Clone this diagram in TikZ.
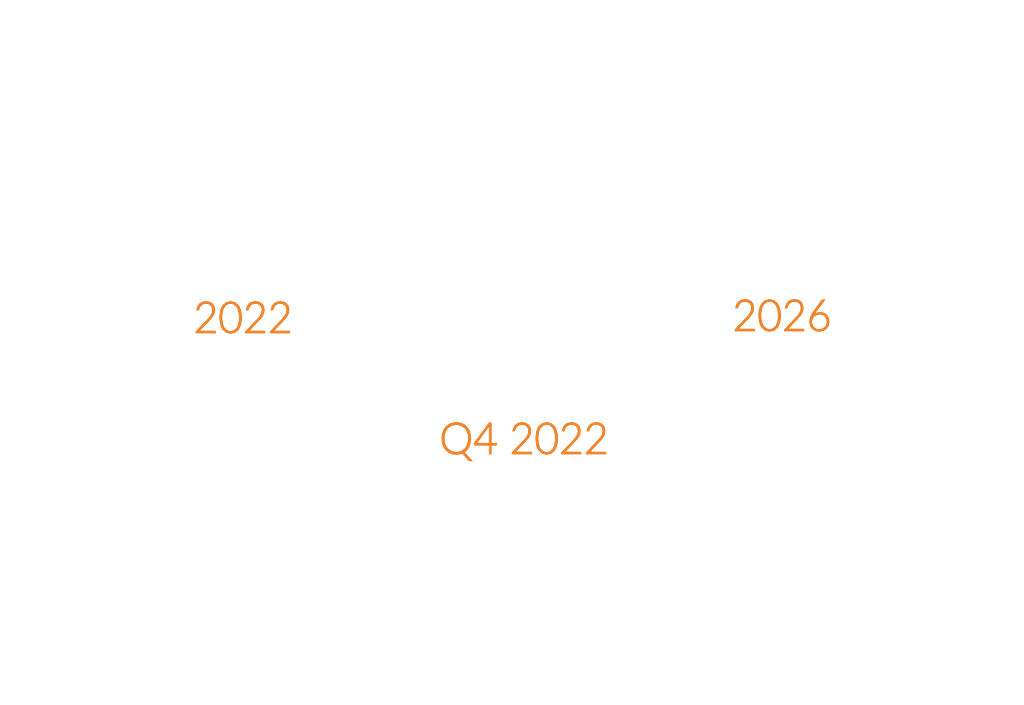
\documentclass[tikz,border=0pt]{standalone}
\usepackage{fontspec}
\setmainfont{Lato}[UprightFont=* Light,UprightFeatures={FakeBold=2,FakeStretch=0.97}]
\definecolor{yearorange}{HTML}{F0862E}
\begin{document}
\begin{tikzpicture}[x=1pt,y=-1pt,
  yearlabel/.style={text=yearorange,font=\fontsize{44}{50}\selectfont,anchor=base,inner sep=0pt}]
\useasboundingbox[fill=white] (0,0) rectangle (1024,704);
\node[yearlabel] (y2022) at (243,333) {2022};
\node[yearlabel] (y2026) at (782,331) {2026};
\node[yearlabel] (q42022) at (524,454) {Q4 2022};
\end{tikzpicture}
\end{document}
